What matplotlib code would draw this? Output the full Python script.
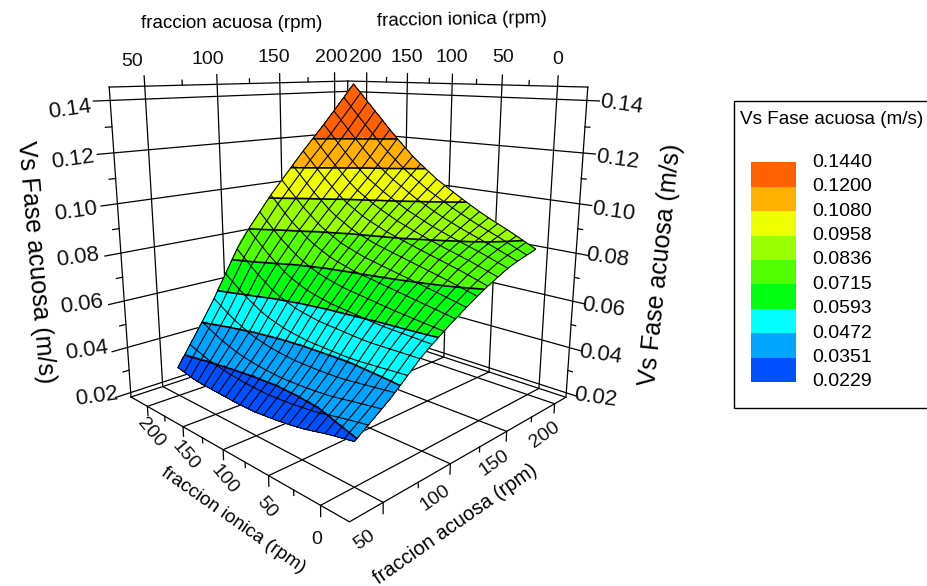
import numpy as np
import matplotlib
matplotlib.use('Agg')
import matplotlib.pyplot as plt
from matplotlib.colors import ListedColormap, BoundaryNorm
from matplotlib.patches import Rectangle

plt.rcParams['font.family'] = ['Liberation Sans', 'DejaVu Sans']

acuosa = np.array([50, 75, 100, 125, 150, 175, 200])
ionica = np.array([0, 25, 50, 75, 100, 125, 150, 175, 200])
# rows: acuosa, columns: ionica
vs = np.array([
    [.0345, .0325, .0300, .0285, .0275, .0275, .0280, .0285, .0305],
    [.0440, .0425, .0410, .0405, .0405, .0415, .0435, .0475, .0530],
    [.0555, .0555, .0555, .0565, .0575, .0595, .0635, .0705, .0790],
    [.0640, .0660, .0680, .0700, .0720, .0750, .0800, .0875, .0970],
    [.0715, .0750, .0780, .0810, .0840, .0880, .0940, .1030, .1130],
    [.0775, .0815, .0850, .0890, .0940, .1000, .1070, .1170, .1280],
    [.0810, .0865, .0915, .0975, .1040, .1120, .1220, .1330, .1440]])

levels = [0.0229, 0.0351, 0.0472, 0.0593, 0.0715, 0.0836, 0.0958, 0.1080, 0.1200, 0.1440]
level_labels = ['0.0229', '0.0351', '0.0472', '0.0593', '0.0715', '0.0836', '0.0958', '0.1080', '0.1200', '0.1440']
band_colors = ['#0050ff', '#00a5ff', '#00ffff', '#00ff10', '#50ff00', '#99ff00', '#eeff00', '#ffb000', '#ff6000']

z_ticks = [0.02, 0.04, 0.06, 0.08, 0.10, 0.12, 0.14]
acuosa_ticks = [50, 100, 150, 200]
ionica_ticks = [0, 50, 100, 150, 200]

amin, amax = 28, 213
imin, imax = -25, 225
zmin, zmax = 0.018, 0.145

fig = plt.figure(figsize=(9.27, 5.86), dpi=100)
# view found by fitting box corners to the reference
W = 539.6
ax = fig.add_axes([71.3 / 927, 59.4 / 586, W / 927, W / 586], projection='3d')
ax.set_xlim(amin, amax)
ax.set_ylim(imin, imax)
ax.set_zlim(zmin, zmax)
ax.view_init(elev=13.58, azim=-135.06)
ax.set_proj_type('persp', focal_length=0.268)
ax.set_box_aspect((1.009, 1.014, 0.999))
ax.set_axis_off()
ax.patch.set_alpha(0)
ax.computed_zorder = False


def seg(x, y, z, lw=0.9, zo=1):
    ax.plot(x, y, z, color='k', lw=lw, zorder=zo)


# back walls and floor
for a in [amin] + acuosa_ticks:
    seg([a, a], [imax, imax], [zmin, zmax + (0.004 if a != amin else 0)])
for i in [imin] + ionica_ticks:
    seg([amax, amax], [i, i], [zmin, zmax + (0.004 if i != imin else 0)])
seg([amax, amax], [imax, imax], [zmin, zmax])
for a in acuosa_ticks:
    seg([a, a], [imin, imax], [zmin, zmin])
    seg([a, a], [imin, imin], [zmin, zmin - 0.004])
for i in ionica_ticks:
    seg([amin, amax], [i, i], [zmin, zmin])
    seg([amin, amin], [i, i], [zmin, zmin - 0.004])
for a in [75, 125, 175]:
    seg([a, a], [imin, imin], [zmin, zmin - 0.002])
    seg([a, a], [imax, imax], [zmax, zmax + 0.002])
for i in [25, 75, 125, 175]:
    seg([amin, amin], [i, i], [zmin, zmin - 0.002])
    seg([amax, amax], [i, i], [zmax, zmax + 0.002])
seg([amin, amax, amax], [imax, imax, imin], [zmax, zmax, zmax])
seg([amin, amax, amax, amin, amin], [imax, imax, imin, imin, imax], [zmin, zmin, zmin, zmin, zmin])
for t in z_ticks:
    seg([amin - 10, amax, amax], [imax, imax, imin - 10], [t, t, t])
for t in [.03, .05, .07, .09, .11, .13]:
    seg([amin - 4, amin], [imax, imax], [t, t])
    seg([amax, amax], [imin - 4, imin], [t, t])


def refine(na, nb):
    # finer nodes between the table values, only to draw the mesh and the colour bands
    a = np.linspace(acuosa[0], acuosa[-1], na)
    b = np.linspace(ionica[0], ionica[-1], nb)
    z = np.array([np.interp(b, ionica, row) for row in vs])
    z = np.array([np.interp(a, acuosa, col) for col in z.T]).T
    B, A = np.meshgrid(b, a)
    return A, B, z


A, B, Z = refine(151, 201)
cmap = ListedColormap(band_colors)
norm = BoundaryNorm(levels, cmap.N, clip=True)
mid = (Z[:-1, :-1] + Z[1:, :-1] + Z[:-1, 1:] + Z[1:, 1:]) / 4
ax.plot_surface(A, B, Z, rstride=1, cstride=1, facecolors=cmap(norm(mid)), shade=False,
                linewidth=0, antialiased=False, zorder=3)
Am, Bm, Zm = refine(17, 23)
ax.plot_wireframe(Am, Bm, Zm, rstride=1, cstride=1, color='k', linewidth=0.8, zorder=4)
ax.contour(A, B, Z, levels=levels[1:-1], colors='k', linewidths=1.2, zorder=5)

# overlay in pixels for labels and legend
ov = fig.add_axes([0, 0, 1, 1])
ov.set_xlim(0, 927)
ov.set_ylim(586, 0)
ov.axis('off')
ov.patch.set_alpha(0)

tick_font = dict(fontsize=14, ha='center', va='center', color='#111111')
z_font = dict(fontsize=16, ha='center', va='center', color='#111111')
top_acuosa_xy = [(132, 62), (208, 60), (274, 58), (331, 57)]
top_ionica_xy = [(558, 59), (503, 58), (452, 57), (407, 57), (365, 57)]
for lab, xy in zip(acuosa_ticks, top_acuosa_xy):
    ov.text(*xy, str(lab), **tick_font)
for lab, xy in zip(ionica_ticks, top_ionica_xy):
    ov.text(*xy, str(lab), **tick_font)
ov.text(232, 23, 'fraccion acuosa (rpm)', fontsize=13.5, ha='center', va='center')
ov.text(462, 20, 'fraccion ionica (rpm)', fontsize=13.5, ha='center', va='center', rotation=1)

left_z_xy = [(97, 397), (87, 351), (82, 305), (78, 258), (76, 212), (73, 160), (70, 110)]
right_z_xy = [(595, 398), (600, 355), (603, 308), (607, 258), (613, 212), (617, 160), (621, 105)]
z_labels = ['%.2f' % t for t in z_ticks]
for lab, xy in zip(z_labels, left_z_xy):
    ov.text(*xy, lab, rotation=8, **z_font)
for lab, xy in zip(z_labels, right_z_xy):
    ov.text(*xy, lab, rotation=-8, **z_font)
ov.text(36, 262, 'Vs Fase acuosa (m/s)', rotation=-85, fontsize=18, ha='center', va='center')
ov.text(661, 265, 'Vs Fase acuosa (m/s)', rotation=84, fontsize=18, ha='center', va='center')

low_ionica_xy = [(317, 540), (267, 507), (224, 480), (185, 456), (151, 433)]
low_acuosa_xy = [(365, 540), (435, 498), (494, 463), (545, 435)]
for lab, xy in zip(ionica_ticks, low_ionica_xy):
    ov.text(*xy, str(lab), rotation=-50 if lab else 0, **tick_font)
for lab, xy in zip(acuosa_ticks, low_acuosa_xy):
    ov.text(*xy, str(lab), rotation=35, **tick_font)
ov.text(233, 520, 'fraccion ionica (rpm)', rotation=-35, fontsize=13.7, ha='center', va='center')
ov.text(455, 524, 'fraccion acuosa (rpm)', rotation=35, fontsize=14.5, ha='center', va='center')

# legend, its right side runs off the picture
ov.add_patch(Rectangle((734.5, 100.5), 240, 307, fc='white', ec='k', lw=1, clip_on=True))
ov.text(740, 119, 'Vs Fase acuosa (m/s)', fontsize=13.6, ha='left', va='center')
sw_h = 24.4
for k, col in enumerate(band_colors):
    ov.add_patch(Rectangle((751, 382 - (k + 1) * sw_h), 45, sw_h, fc=col, ec='none'))
for k, lab in enumerate(level_labels):
    ov.text(812, 382 - k * sw_h, lab, fontsize=14, ha='left', va='center')

fig.savefig('out.png', dpi=100)
